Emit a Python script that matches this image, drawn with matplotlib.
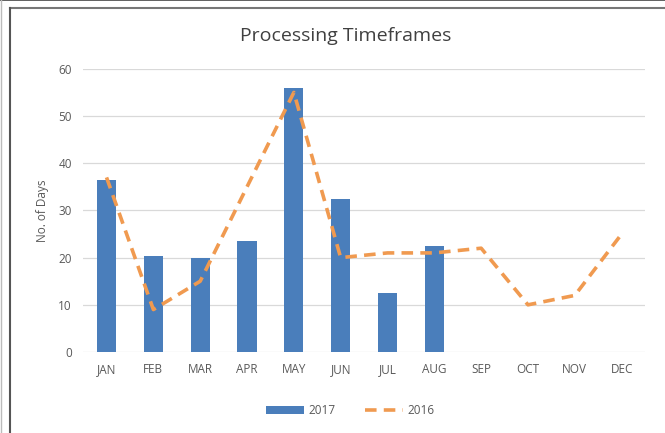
import matplotlib.pyplot as plt
import numpy as np
from matplotlib.lines import Line2D

months = ['JAN', 'FEB', 'MAR', 'APR', 'MAY', 'JUN', 'JUL', 'AUG', 'SEP', 'OCT', 'NOV', 'DEC']
days_2017 = [36.5, 20.3, 20.0, 23.5, 56.0, 32.5, 12.5, 22.4]
days_2016 = [37, 9, 15, 35, 55, 20, 21, 21, 22, 10, 12, 25]
yticks = [0, 10, 20, 30, 40, 50, 60]

plt.rcParams['font.family'] = ['Open Sans', 'DejaVu Sans']
txt = '#595959'

fig = plt.figure(figsize=(6.65, 4.33), dpi=100)
ax = fig.add_axes([0.125, 0.187, 0.845, 0.654])

x = np.arange(len(months))
bars = ax.bar(x[:len(days_2017)], days_2017, width=0.41, color='#4A7EBB', label='2017', zorder=2)
line, = ax.plot(x, days_2016, color='#F09A50', lw=2.6, dashes=(3.2, 2.0), label='2016', zorder=3,
                dash_capstyle='butt')

ax.set_xlim(-0.5, 11.5)
ax.set_ylim(0, 60)
ax.set_yticks(yticks)
ax.set_xticks(x)
ax.set_xticklabels(months)
ax.tick_params(length=0, labelsize=8.5, colors=txt, pad=8)
ax.yaxis.grid(True, color='#D9D9D9', lw=0.9, zorder=0)
for s in ax.spines.values():
    s.set_visible(False)
ax.set_ylabel('No. of Days', fontsize=8.5, color=txt, labelpad=7)

fig.text(0.52, 0.918, 'Processing Timeframes', ha='center', va='center', fontsize=14, color='#404040')

leg = fig.legend([bars, line], ['2017', '2016'], loc='center', bbox_to_anchor=(0.527, 0.052),
                 ncol=2, frameon=False, fontsize=8.5, handlelength=3.2, columnspacing=2.5,
                 handletextpad=0.4)
for t in leg.get_texts():
    t.set_color(txt)

# outer frame lines
fig.add_artist(Line2D([0, 1], [0.999, 0.999], color='#444444', lw=1.2))
fig.add_artist(Line2D([0.002, 0.002], [0, 1], color='#BBBBBB', lw=1.0))
fig.add_artist(Line2D([9.5 / 665, 1], [1 - 8 / 433, 1 - 8 / 433], color='#777777', lw=1.5))
fig.add_artist(Line2D([9.5 / 665, 9.5 / 665], [0, 1 - 8 / 433], color='#555555', lw=1.5))

fig.savefig('out.png', dpi=100)
